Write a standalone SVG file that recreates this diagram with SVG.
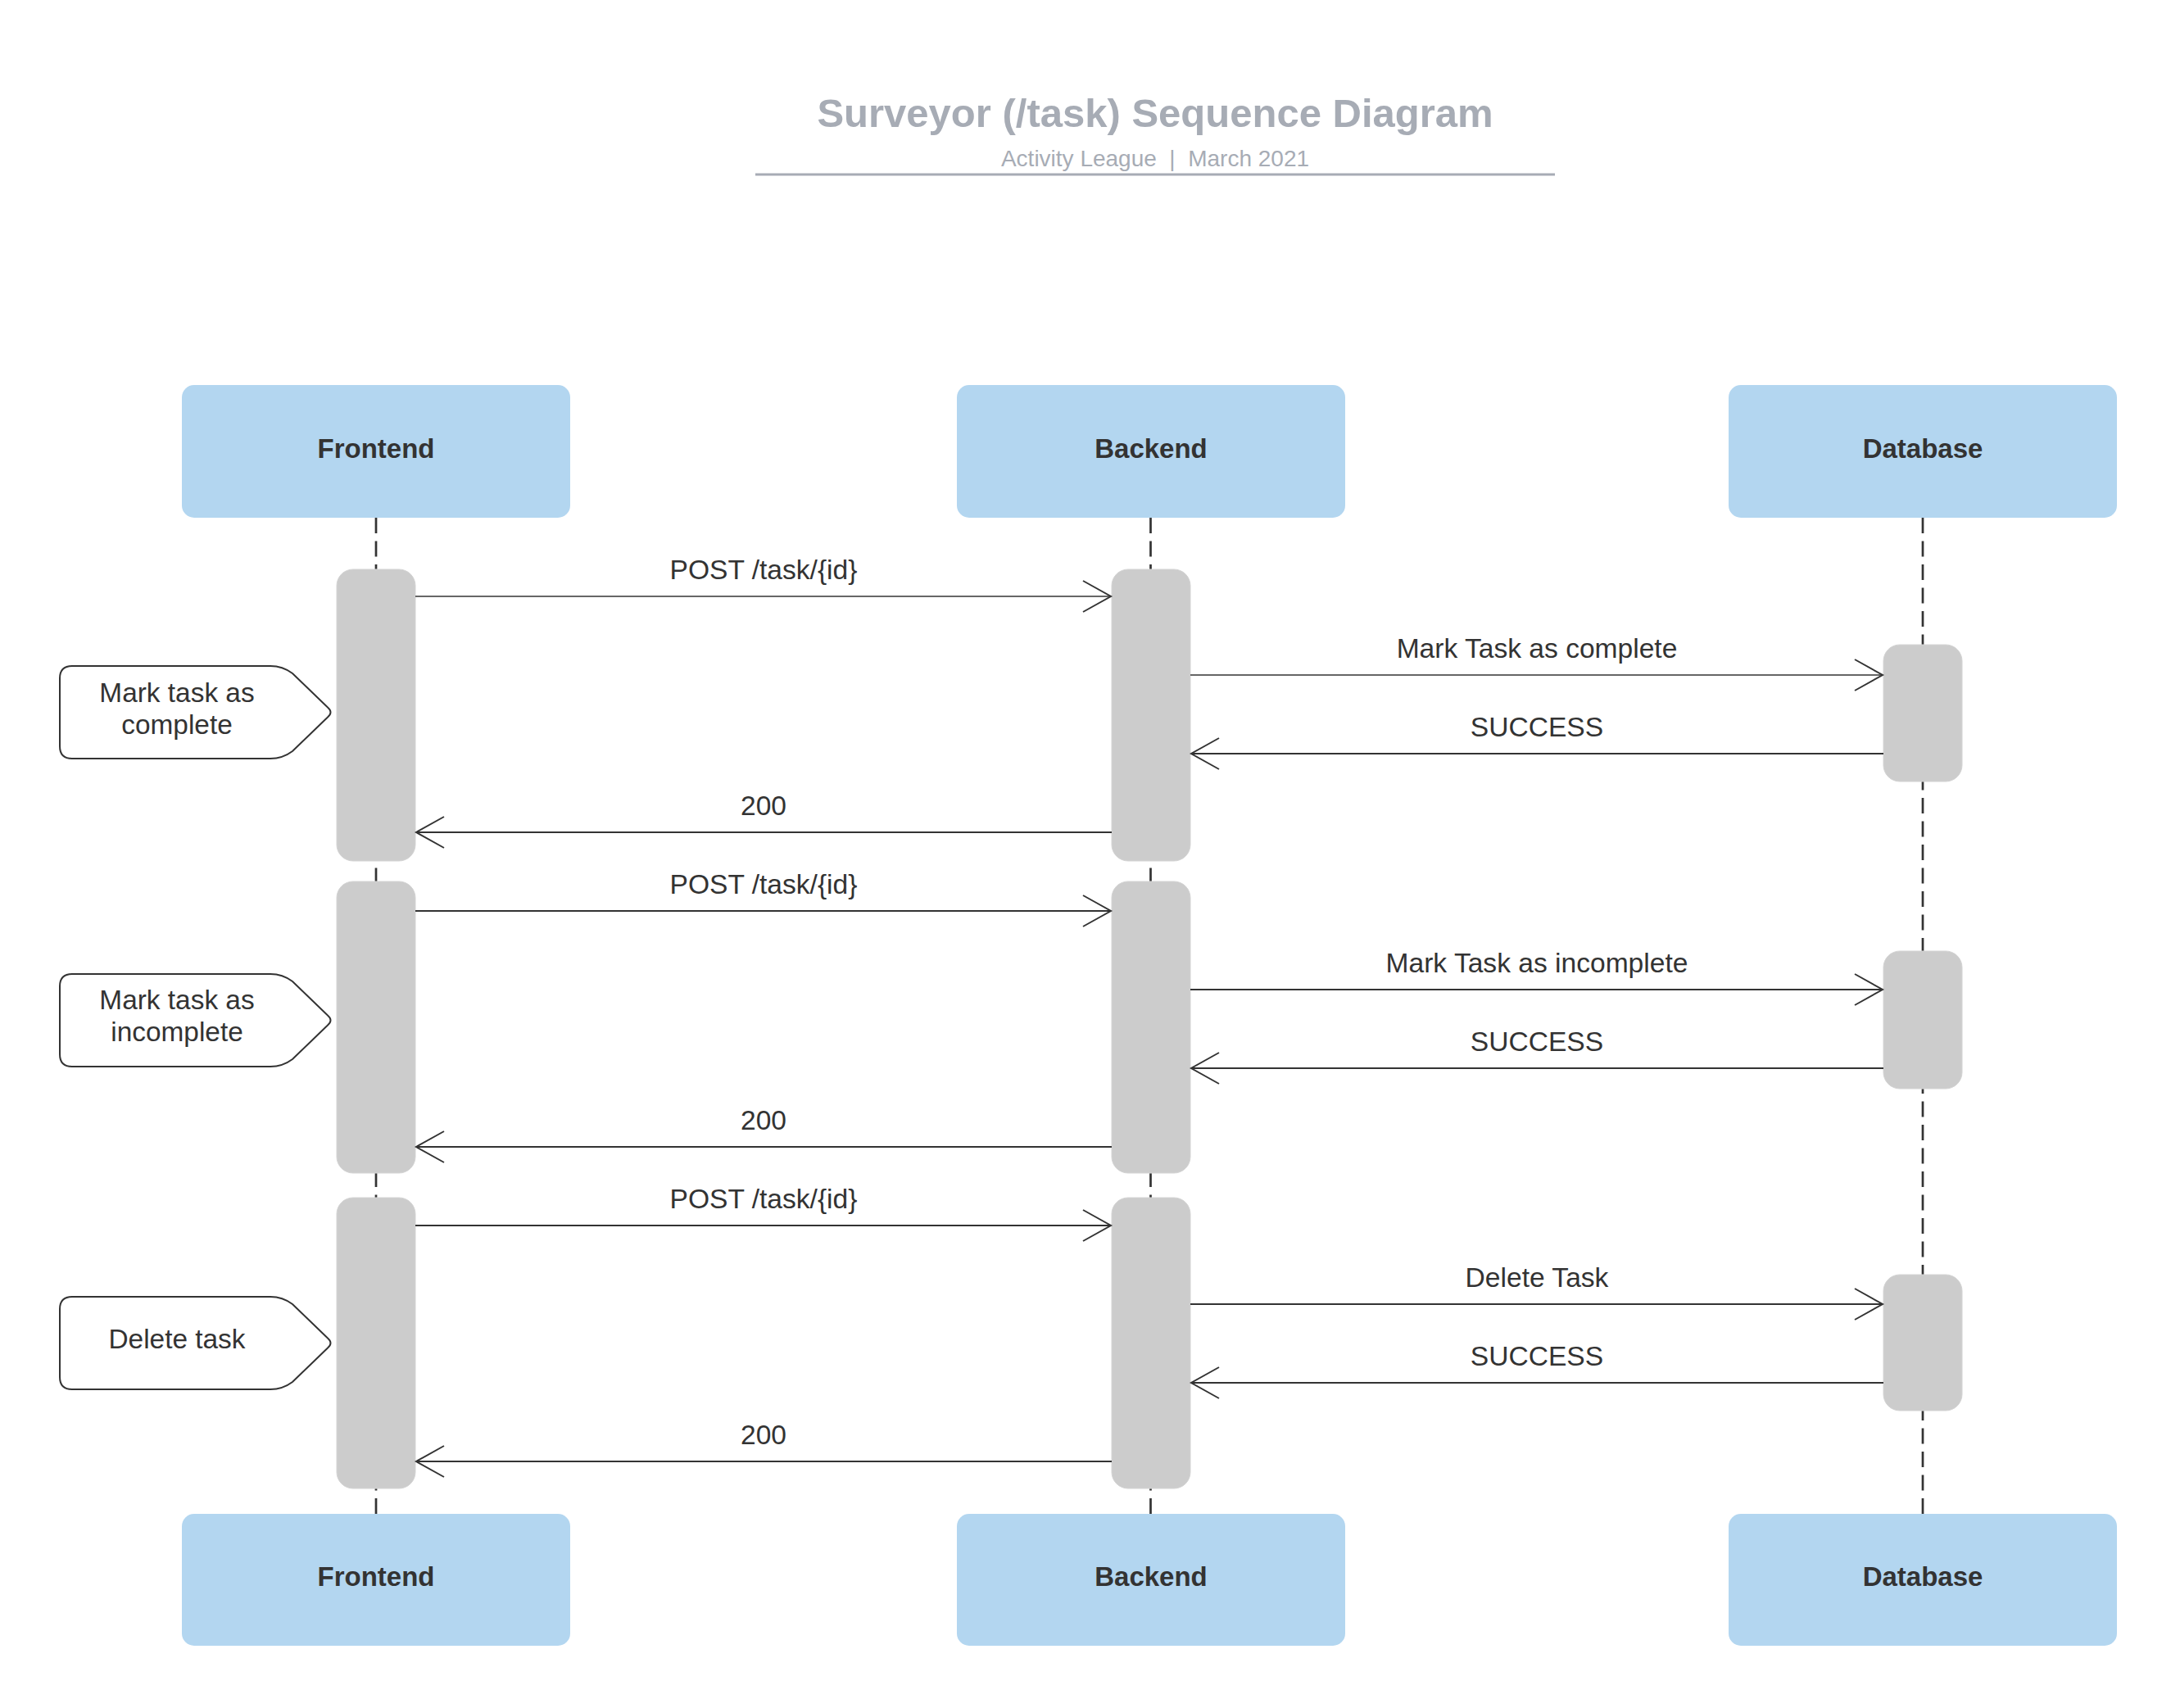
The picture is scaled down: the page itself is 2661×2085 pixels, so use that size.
<svg xmlns="http://www.w3.org/2000/svg" width="2661" height="2085" viewBox="0 0 2661 2085">
  <defs>
    <style>
      .bg { fill: #ffffff; }
      .title { font-family: "Liberation Sans", Arial, sans-serif; font-weight: bold; font-size: 49px; fill: #a7acb5; text-anchor: middle; }
      .subtitle { font-family: "Liberation Sans", Arial, sans-serif; font-size: 28px; fill: #a7acb5; text-anchor: middle; white-space: pre; }
      .rule { stroke: #a7acb5; stroke-width: 3; }
      .head rect { fill: #b3d6f0; }
      .head text { font-family: "Liberation Sans", Arial, sans-serif; font-weight: bold; font-size: 33px; fill: #333333; text-anchor: middle; }
      .life { stroke: #333333; stroke-width: 2.7; stroke-dasharray: 19 9.5; fill: none; }
      .act { fill: #cccccc; stroke: #d4d4d4; stroke-width: 1; }
      .msg { stroke: #333333; stroke-width: 2; fill: none; marker-end: url(#open); }
      .msg.thin { stroke-width: 1.4; }
      .lbl { font-family: "Liberation Sans", Arial, sans-serif; font-size: 33.6px; fill: #333333; text-anchor: middle; }
      .notebox { fill: #ffffff; stroke: #333333; stroke-width: 2; }
      .note text { font-family: "Liberation Sans", Arial, sans-serif; font-size: 33.4px; fill: #333333; text-anchor: middle; }
    </style>
    <marker id="open" markerUnits="userSpaceOnUse" markerWidth="40" markerHeight="44" viewBox="-36 -22 40 44" refX="0" refY="0" orient="auto" overflow="visible">
      <path d="M-34,-19 L0,0 L-34,19" fill="none" stroke="#333333" stroke-width="2"/>
    </marker>
  </defs>

  <rect class="bg" x="0" y="0" width="2661" height="2085"/>

  <g id="title">
    <text class="title" x="1410" y="155">Surveyor (/task) Sequence Diagram</text>
    <text class="subtitle" x="1410" y="203" xml:space="preserve">Activity League  |  March 2021</text>
    <line class="rule" x1="922" y1="213" x2="1898" y2="213"/>
  </g>

  <g id="lifelines">
    <line class="life" x1="459" y1="632" x2="459" y2="1848"/>
    <line class="life" x1="1404.5" y1="632" x2="1404.5" y2="1848"/>
    <line class="life" x1="2347" y1="632" x2="2347" y2="1848"/>
  </g>

  <g id="frontend-top" class="head">
    <rect x="222" y="470" width="474" height="162" rx="15"/>
    <text x="459" y="558.5">Frontend</text>
  </g>
  <g id="backend-top" class="head">
    <rect x="1168" y="470" width="474" height="162" rx="15"/>
    <text x="1405" y="558.5">Backend</text>
  </g>
  <g id="database-top" class="head">
    <rect x="2110" y="470" width="474" height="162" rx="15"/>
    <text x="2347" y="558.5">Database</text>
  </g>

  <g id="frontend-bottom" class="head">
    <rect x="222" y="1848" width="474" height="161" rx="15"/>
    <text x="459" y="1936">Frontend</text>
  </g>
  <g id="backend-bottom" class="head">
    <rect x="1168" y="1848" width="474" height="161" rx="15"/>
    <text x="1405" y="1936">Backend</text>
  </g>
  <g id="database-bottom" class="head">
    <rect x="2110" y="1848" width="474" height="161" rx="15"/>
    <text x="2347" y="1936">Database</text>
  </g>

  <g id="activations">
    <rect id="act-fe-1" class="act" x="411" y="695" width="96" height="356" rx="20"/>
    <rect id="act-fe-2" class="act" x="411" y="1076" width="96" height="356" rx="20"/>
    <rect id="act-fe-3" class="act" x="411" y="1462" width="96" height="355" rx="20"/>
    <rect id="act-be-1" class="act" x="1357" y="695" width="96" height="356" rx="20"/>
    <rect id="act-be-2" class="act" x="1357" y="1076" width="96" height="356" rx="20"/>
    <rect id="act-be-3" class="act" x="1357" y="1462" width="96" height="355" rx="20"/>
    <rect id="act-db-1" class="act" x="2299" y="787" width="96" height="167" rx="20"/>
    <rect id="act-db-2" class="act" x="2299" y="1161" width="96" height="168" rx="20"/>
    <rect id="act-db-3" class="act" x="2299" y="1556" width="96" height="166" rx="20"/>
  </g>

  <g id="connectors">
    <line class="msg thin" x1="507" y1="728" x2="1356" y2="728"/>
    <line class="msg thin" x1="1453" y1="824" x2="2298" y2="824"/>
    <line class="msg" x1="2299" y1="920" x2="1454" y2="920"/>
    <line class="msg" x1="1357" y1="1016" x2="508" y2="1016"/>

    <line class="msg" x1="507" y1="1112" x2="1356" y2="1112"/>
    <line class="msg" x1="1453" y1="1208" x2="2298" y2="1208"/>
    <line class="msg" x1="2299" y1="1304" x2="1454" y2="1304"/>
    <line class="msg" x1="1357" y1="1400" x2="508" y2="1400"/>

    <line class="msg" x1="507" y1="1496" x2="1356" y2="1496"/>
    <line class="msg" x1="1453" y1="1592" x2="2298" y2="1592"/>
    <line class="msg" x1="2299" y1="1688" x2="1454" y2="1688"/>
    <line class="msg" x1="1357" y1="1784" x2="508" y2="1784"/>
  </g>

  <g id="connector-labels">
    <text class="lbl" x="932" y="707">POST /task/{id}</text>
    <text class="lbl" x="1876" y="803">Mark Task as complete</text>
    <text class="lbl" x="1876" y="899">SUCCESS</text>
    <text class="lbl" x="932" y="995">200</text>

    <text class="lbl" x="932" y="1091">POST /task/{id}</text>
    <text class="lbl" x="1876" y="1187">Mark Task as incomplete</text>
    <text class="lbl" x="1876" y="1283">SUCCESS</text>
    <text class="lbl" x="932" y="1379">200</text>

    <text class="lbl" x="932" y="1475">POST /task/{id}</text>
    <text class="lbl" x="1876" y="1571">Delete Task</text>
    <text class="lbl" x="1876" y="1667">SUCCESS</text>
    <text class="lbl" x="932" y="1763">200</text>
  </g>

  <g id="note-complete" class="note">
    <path class="notebox" transform="translate(73,813)" d="M15,0 H257 Q272,0 284,9 L327,50.5 Q334,56.5 327,62.5 L284,104 Q272,113 257,113 H15 Q0,113 0,98 V15 Q0,0 15,0 Z"/>
    <text x="216" y="857">Mark task as</text>
    <text x="216" y="896">complete</text>
  </g>
  <g id="note-incomplete" class="note">
    <path class="notebox" transform="translate(73,1189)" d="M15,0 H257 Q272,0 284,9 L327,50.5 Q334,56.5 327,62.5 L284,104 Q272,113 257,113 H15 Q0,113 0,98 V15 Q0,0 15,0 Z"/>
    <text x="216" y="1232">Mark task as</text>
    <text x="216" y="1271">incomplete</text>
  </g>
  <g id="note-delete" class="note">
    <path class="notebox" transform="translate(73,1583)" d="M15,0 H257 Q272,0 284,9 L327,50.5 Q334,56.5 327,62.5 L284,104 Q272,113 257,113 H15 Q0,113 0,98 V15 Q0,0 15,0 Z"/>
    <text x="216" y="1646">Delete task</text>
  </g>
</svg>
